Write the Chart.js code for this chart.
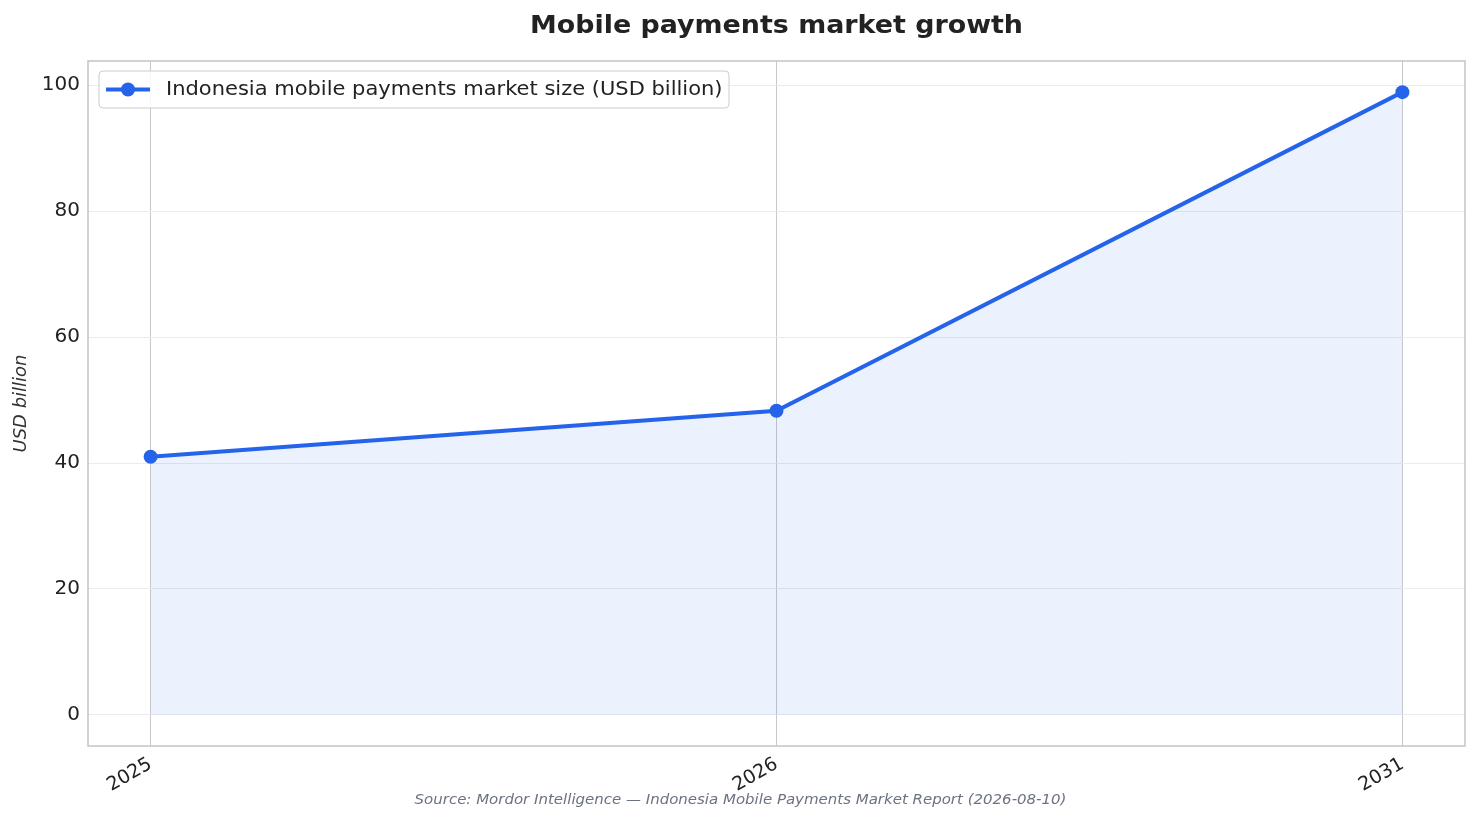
<!DOCTYPE html>
<html>
<head>
<meta charset="utf-8">
<script src="https://cdn.jsdelivr.net/npm/chart.js@4.4.1/dist/chart.umd.min.js"></script>
<style>
  html, body { margin: 0; padding: 0; background: #fff; }
  #wrap { width: 1481px; height: 824px; }
</style>
</head>
<body>
<div id="wrap"><canvas id="chart" width="1481" height="824"></canvas></div>
<script>
// datos
var years = ['2025', '2026', '2031'];
var marketSize = [41.0, 48.3, 98.9];
var yTicks = [0, 20, 40, 60, 80, 100];
var seriesLabel = 'Indonesia mobile payments market size (USD billion)';
var chartTitle = 'Mobile payments market growth';
var sourceText = 'Source: Mordor Intelligence \u2014 Indonesia Mobile Payments Market Report (2026-08-10)';

var FONT = "'DejaVu Sans', sans-serif";
var BLUE = '#2563eb';

// texto un poco ensanchado, como en la imagen original
function wideText(ctx, text, x, y, sx) {
    ctx.save();
    ctx.translate(x, y);
    ctx.scale(sx, 1);
    ctx.fillText(text, 0, 0);
    ctx.restore();
}

// titulo, leyenda dentro del area, borde y fuente
var decorations = {
    id: 'decorations',
    afterDraw: function (chart) {
        var ctx = chart.ctx;
        var a = chart.chartArea;
        ctx.save();

        // borde del area de trazado
        ctx.strokeStyle = '#c4c4c4';
        ctx.lineWidth = 1.5;
        ctx.strokeRect(a.left, a.top, a.right - a.left, a.bottom - a.top);

        // titulo
        ctx.fillStyle = '#222';
        ctx.font = 'bold 24px ' + FONT;
        ctx.textAlign = 'center';
        ctx.textBaseline = 'middle';
        wideText(ctx, chartTitle, (a.left + a.right) / 2, 27, 1.12);

        // leyenda
        var lx = a.left + 11, ly = a.top + 10, lw = 630, lh = 37;
        ctx.fillStyle = 'rgba(255,255,255,0.85)';
        ctx.strokeStyle = '#cccccc';
        ctx.lineWidth = 1;
        ctx.beginPath();
        ctx.roundRect(lx, ly, lw, lh, 4);
        ctx.fill();
        ctx.stroke();
        var cy = ly + lh / 2;
        ctx.strokeStyle = BLUE;
        ctx.lineWidth = 4;
        ctx.beginPath();
        ctx.moveTo(lx + 7, cy);
        ctx.lineTo(lx + 51, cy);
        ctx.stroke();
        ctx.fillStyle = BLUE;
        ctx.beginPath();
        ctx.arc(lx + 29, cy, 7, 0, Math.PI * 2);
        ctx.fill();
        ctx.fillStyle = '#222';
        ctx.font = '19px ' + FONT;
        ctx.textAlign = 'left';
        wideText(ctx, seriesLabel, lx + 67, cy + 1, 1.105);

        // fuente
        ctx.fillStyle = '#6b7280';
        ctx.font = 'italic 13.5px ' + FONT;
        ctx.textAlign = 'center';
        wideText(ctx, sourceText, chart.width / 2, 800, 1.11);
        ctx.restore();
    }
};

var chart = new Chart(document.getElementById('chart'), {
    type: 'line',
    data: {
        datasets: [{
            label: seriesLabel,
            data: marketSize.map(function (v, i) { return { x: i, y: v }; }),
            borderColor: BLUE,
            backgroundColor: 'rgba(37,99,235,0.085)',
            borderWidth: 4,
            pointRadius: 7,
            pointHoverRadius: 7,
            pointBackgroundColor: BLUE,
            pointBorderWidth: 0,
            fill: 'origin',
            tension: 0
        }]
    },
    plugins: [decorations],
    options: {
        responsive: false,
        animation: false,
        layout: { padding: { top: 61, right: 16, bottom: 0, left: 0 } },
        plugins: {
            legend: { display: false },
            title: { display: false },
            tooltip: { enabled: false }
        },
        scales: {
            x: {
                type: 'linear',
                min: -0.1,
                max: 2.1,
                afterBuildTicks: function (scale) {
                    scale.ticks = years.map(function (y, i) { return { value: i }; });
                },
                afterFit: function (scale) { scale.height = 78; },
                grid: { color: '#c8c8cc', lineWidth: 1, drawTicks: false },
                border: { display: false },
                ticks: {
                    minRotation: 30,
                    maxRotation: 30,
                    padding: 7,
                    color: '#222',
                    font: { family: FONT, size: 19 },
                    callback: function (v) { return years[v]; }
                }
            },
            y: {
                min: -4.945,
                max: 103.845,
                afterBuildTicks: function (scale) {
                    scale.ticks = yTicks.map(function (v) { return { value: v }; });
                },
                afterFit: function (scale) { scale.width = 88; },
                grid: { color: '#ebebeb', lineWidth: 1, drawTicks: false },
                border: { display: false },
                title: {
                    display: true,
                    text: 'USD billion',
                    color: '#333',
                    font: { family: FONT, size: 18, style: 'italic' },
                    padding: { top: 11, bottom: 0 }
                },
                ticks: {
                    padding: 8,
                    color: '#222',
                    font: { family: FONT, size: 20 }
                }
            }
        }
    }
});
</script>
</body>
</html>
